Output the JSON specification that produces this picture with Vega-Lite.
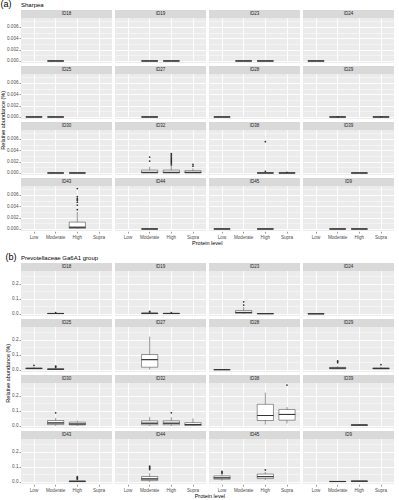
{
  "$schema": "https://vega.github.io/schema/vega-lite/v6.json",
  "padding": {"left": 0, "top": 0, "right": 0, "bottom": 0},
  "background": "white",
  "config": {
    "font": "Liberation Sans",
    "view": {"stroke": null, "fill": "#EBEBEB"},
    "axis": {"domain": false, "tickColor": "#333333", "tickSize": 2, "tickWidth": 0.5, "labelFontSize": 4.6, "labelColor": "#4D4D4D", "labelPadding": 1, "gridColor": "#FFFFFF", "titleFontSize": 5.5, "titleFontWeight": "normal", "titleColor": "#000000", "titlePadding": 2},
    "title": {"fontWeight": "normal", "color": "#000000"},
    "header": {"titleFontWeight": "normal", "labels": false, "labelExpr": "''", "labelFontSize": 1, "labelPadding": 0}
  },
  "datasets": {
    "sharpea": [
      {"panel": "ID18", "level": "Moderate", "lo": 0, "q1": 0, "med": 0, "q3": 0, "hi": 0},
      {"panel": "ID19", "level": "Moderate", "lo": 0, "q1": 0, "med": 0, "q3": 0, "hi": 0},
      {"panel": "ID19", "level": "High", "lo": 0, "q1": 0, "med": 0, "q3": 0, "hi": 0},
      {"panel": "ID23", "level": "Moderate", "lo": 0, "q1": 0, "med": 0, "q3": 0, "hi": 0},
      {"panel": "ID23", "level": "High", "lo": 0, "q1": 0, "med": 0, "q3": 0, "hi": 0},
      {"panel": "ID24", "level": "Low", "lo": 0, "q1": 0, "med": 0, "q3": 0, "hi": 0},
      {"panel": "ID25", "level": "Low", "lo": 0, "q1": 0, "med": 0, "q3": 0, "hi": 0},
      {"panel": "ID25", "level": "Moderate", "lo": 0, "q1": 0, "med": 0, "q3": 0, "hi": 0},
      {"panel": "ID27", "level": "Moderate", "lo": 0, "q1": 0, "med": 0, "q3": 0, "hi": 0},
      {"panel": "ID28", "level": "Low", "lo": 0, "q1": 0, "med": 0, "q3": 0, "hi": 0},
      {"panel": "ID29", "level": "Moderate", "lo": 0, "q1": 0, "med": 0, "q3": 0, "hi": 0},
      {"panel": "ID29", "level": "Moderate", "out": 0.00003},
      {"panel": "ID29", "level": "Supra", "lo": 0, "q1": 0, "med": 0, "q3": 0, "hi": 0},
      {"panel": "ID29", "level": "Supra", "out": 0.00003},
      {"panel": "ID30", "level": "Moderate", "lo": 0, "q1": 0, "med": 0, "q3": 0, "hi": 0},
      {"panel": "ID30", "level": "High", "lo": 0, "q1": 0, "med": 0, "q3": 0, "hi": 0},
      {"panel": "ID32", "level": "Moderate", "lo": 0, "q1": 0, "med": 0.0001, "q3": 0.0005, "hi": 0.0011},
      {"panel": "ID32", "level": "Moderate", "out": 0.0021},
      {"panel": "ID32", "level": "Moderate", "out": 0.0028},
      {"panel": "ID32", "level": "High", "lo": 0, "q1": 0, "med": 0.0001, "q3": 0.0005, "hi": 0.0012},
      {"panel": "ID32", "level": "High", "out": 0.0014},
      {"panel": "ID32", "level": "High", "out": 0.0016},
      {"panel": "ID32", "level": "High", "out": 0.0018},
      {"panel": "ID32", "level": "High", "out": 0.002},
      {"panel": "ID32", "level": "High", "out": 0.0022},
      {"panel": "ID32", "level": "High", "out": 0.0024},
      {"panel": "ID32", "level": "High", "out": 0.0026},
      {"panel": "ID32", "level": "High", "out": 0.0028},
      {"panel": "ID32", "level": "High", "out": 0.003},
      {"panel": "ID32", "level": "High", "out": 0.0032},
      {"panel": "ID32", "level": "High", "out": 0.0034},
      {"panel": "ID32", "level": "Supra", "lo": 0, "q1": 0, "med": 0.0001, "q3": 0.0004, "hi": 0.0008},
      {"panel": "ID32", "level": "Supra", "out": 0.0012},
      {"panel": "ID32", "level": "Supra", "out": 0.0015},
      {"panel": "ID38", "level": "High", "lo": 0, "q1": 0, "med": 0, "q3": 0, "hi": 0.0001},
      {"panel": "ID38", "level": "High", "out": 0.0003},
      {"panel": "ID38", "level": "High", "out": 0.0055},
      {"panel": "ID38", "level": "Supra", "lo": 0, "q1": 0, "med": 0, "q3": 0, "hi": 0},
      {"panel": "ID38", "level": "Supra", "out": 0.0001},
      {"panel": "ID39", "level": "High", "lo": 0, "q1": 0, "med": 0, "q3": 0, "hi": 0},
      {"panel": "ID43", "level": "High", "lo": 0, "q1": 0.0001, "med": 0.0003, "q3": 0.0012, "hi": 0.003},
      {"panel": "ID43", "level": "High", "out": 0.0034},
      {"panel": "ID43", "level": "High", "out": 0.0042},
      {"panel": "ID43", "level": "High", "out": 0.0047},
      {"panel": "ID43", "level": "High", "out": 0.005},
      {"panel": "ID43", "level": "High", "out": 0.0052},
      {"panel": "ID43", "level": "High", "out": 0.0054},
      {"panel": "ID43", "level": "High", "out": 0.0057},
      {"panel": "ID43", "level": "High", "out": 0.0071},
      {"panel": "ID44", "level": "Moderate", "lo": 0, "q1": 0, "med": 0, "q3": 0, "hi": 0},
      {"panel": "ID45", "level": "Low", "lo": 0, "q1": 0, "med": 0, "q3": 0, "hi": 0},
      {"panel": "ID45", "level": "High", "lo": 0, "q1": 0, "med": 0, "q3": 0, "hi": 0},
      {"panel": "ID9", "level": "Moderate", "lo": 0, "q1": 0, "med": 0, "q3": 0, "hi": 0},
      {"panel": "ID9", "level": "High", "lo": 0, "q1": 0, "med": 0, "q3": 0, "hi": 0}
    ],
    "prevo": [
      {"panel": "ID18", "level": "Moderate", "lo": 0.001, "q1": 0.002, "med": 0.003, "q3": 0.004, "hi": 0.006},
      {"panel": "ID18", "level": "Moderate", "out": 0.009},
      {"panel": "ID19", "level": "Moderate", "lo": 0.001, "q1": 0.002, "med": 0.004, "q3": 0.006, "hi": 0.009},
      {"panel": "ID19", "level": "Moderate", "out": 0.013},
      {"panel": "ID19", "level": "Moderate", "out": 0.017},
      {"panel": "ID19", "level": "High", "lo": 0.001, "q1": 0.002, "med": 0.003, "q3": 0.005, "hi": 0.007},
      {"panel": "ID19", "level": "High", "out": 0.009},
      {"panel": "ID23", "level": "Moderate", "lo": 0, "q1": 0.004, "med": 0.01, "q3": 0.023, "hi": 0.046},
      {"panel": "ID23", "level": "Moderate", "out": 0.059},
      {"panel": "ID23", "level": "Moderate", "out": 0.08},
      {"panel": "ID23", "level": "High", "lo": 0, "q1": 0.001, "med": 0.002, "q3": 0.003, "hi": 0.004},
      {"panel": "ID24", "level": "Low", "lo": 0, "q1": 0.001, "med": 0.001, "q3": 0.002, "hi": 0.003},
      {"panel": "ID25", "level": "Low", "lo": 0.005, "q1": 0.008, "med": 0.01, "q3": 0.013, "hi": 0.018},
      {"panel": "ID25", "level": "Low", "out": 0.03},
      {"panel": "ID25", "level": "Moderate", "lo": 0, "q1": 0.003, "med": 0.005, "q3": 0.008, "hi": 0.012},
      {"panel": "ID25", "level": "Moderate", "out": 0.018},
      {"panel": "ID25", "level": "Moderate", "out": 0.022},
      {"panel": "ID25", "level": "Moderate", "out": 0.026},
      {"panel": "ID27", "level": "Moderate", "lo": 0.002, "q1": 0.018, "med": 0.068, "q3": 0.102, "hi": 0.22},
      {"panel": "ID28", "level": "Low", "lo": 0, "q1": 0.001, "med": 0.002, "q3": 0.003, "hi": 0.005},
      {"panel": "ID29", "level": "Moderate", "lo": 0.004, "q1": 0.008, "med": 0.012, "q3": 0.017, "hi": 0.025},
      {"panel": "ID29", "level": "Moderate", "out": 0.048},
      {"panel": "ID29", "level": "Moderate", "out": 0.055},
      {"panel": "ID29", "level": "Moderate", "out": 0.06},
      {"panel": "ID29", "level": "Supra", "lo": 0.004, "q1": 0.007, "med": 0.01, "q3": 0.013, "hi": 0.02},
      {"panel": "ID29", "level": "Supra", "out": 0.035},
      {"panel": "ID30", "level": "Moderate", "lo": 0, "q1": 0.009, "med": 0.02, "q3": 0.036, "hi": 0.053},
      {"panel": "ID30", "level": "Moderate", "out": 0.087},
      {"panel": "ID30", "level": "High", "lo": 0, "q1": 0.007, "med": 0.013, "q3": 0.025, "hi": 0.036},
      {"panel": "ID32", "level": "Moderate", "lo": 0, "q1": 0.008, "med": 0.018, "q3": 0.034, "hi": 0.06},
      {"panel": "ID32", "level": "High", "lo": 0, "q1": 0.008, "med": 0.018, "q3": 0.034, "hi": 0.058},
      {"panel": "ID32", "level": "High", "out": 0.087},
      {"panel": "ID32", "level": "Supra", "lo": 0, "q1": 0.003, "med": 0.009, "q3": 0.022, "hi": 0.05},
      {"panel": "ID38", "level": "High", "lo": 0.009, "q1": 0.036, "med": 0.069, "q3": 0.143, "hi": 0.22},
      {"panel": "ID38", "level": "Supra", "lo": 0.016, "q1": 0.038, "med": 0.076, "q3": 0.109, "hi": 0.125},
      {"panel": "ID38", "level": "Supra", "out": 0.27},
      {"panel": "ID39", "level": "High", "lo": 0.002, "q1": 0.004, "med": 0.006, "q3": 0.008, "hi": 0.012},
      {"panel": "ID43", "level": "High", "lo": 0, "q1": 0.002, "med": 0.004, "q3": 0.007, "hi": 0.012},
      {"panel": "ID43", "level": "High", "out": 0.018},
      {"panel": "ID43", "level": "High", "out": 0.022},
      {"panel": "ID43", "level": "High", "out": 0.026},
      {"panel": "ID43", "level": "High", "out": 0.03},
      {"panel": "ID43", "level": "High", "out": 0.035},
      {"panel": "ID44", "level": "Moderate", "lo": 0, "q1": 0.009, "med": 0.02, "q3": 0.036, "hi": 0.058},
      {"panel": "ID44", "level": "Moderate", "out": 0.082},
      {"panel": "ID44", "level": "Moderate", "out": 0.088},
      {"panel": "ID44", "level": "Moderate", "out": 0.093},
      {"panel": "ID44", "level": "Moderate", "out": 0.098},
      {"panel": "ID44", "level": "Moderate", "out": 0.104},
      {"panel": "ID45", "level": "Low", "lo": 0.008, "q1": 0.018, "med": 0.027, "q3": 0.04, "hi": 0.055},
      {"panel": "ID45", "level": "Low", "out": 0.058},
      {"panel": "ID45", "level": "Low", "out": 0.064},
      {"panel": "ID45", "level": "Low", "out": 0.07},
      {"panel": "ID45", "level": "High", "lo": 0.012, "q1": 0.022, "med": 0.035, "q3": 0.052, "hi": 0.066},
      {"panel": "ID45", "level": "High", "out": 0.079},
      {"panel": "ID9", "level": "Moderate", "lo": 0.001, "q1": 0.002, "med": 0.003, "q3": 0.004, "hi": 0.006},
      {"panel": "ID9", "level": "High", "lo": 0.002, "q1": 0.003, "med": 0.005, "q3": 0.007, "hi": 0.009}
    ]
  },
  "vconcat": [
    {
      "title": {"text": "(a)", "anchor": "start", "frame": "bounds", "fontSize": 9, "offset": -7},
      "vconcat": [
        {
          "title": {"text": "Protein level", "orient": "bottom", "anchor": "middle", "fontSize": 5.5, "offset": 2, "dx": 10},
          "vconcat": [
            {
              "data": {"name": "sharpea"},
              "title": {"text": "Relative abundance (%)", "orient": "left", "anchor": "middle", "fontSize": 5.5, "offset": 0.5},
              "facet": {"field": "panel", "type": "nominal", "sort": ["ID18", "ID19", "ID23", "ID24", "ID25", "ID27", "ID28", "ID29", "ID30", "ID32", "ID38", "ID39", "ID43", "ID44", "ID45", "ID9"], "header": {"labels": false, "labelExpr": "''", "labelFontSize": 1, "labelPadding": 0, "title": "Sharpea", "titleAnchor": "start", "titleFontSize": 6, "titlePadding": 1, "titleColor": "#000000"}},
              "columns": 4,
              "spacing": {"row": 2, "column": 3},
              "spec": {
                "width": 91,
                "height": 53,
                "encoding": {
                  "x": {"field": "level", "type": "nominal", "scale": {"domain": ["Low", "Moderate", "High", "Supra"], "paddingInner": 0.25, "paddingOuter": 0.225}, "axis": {"title": null, "labelAngle": 0, "bandPosition": 0.5, "grid": true, "gridWidth": 0.9}},
                  "y": {"type": "quantitative", "scale": {"domain": [-0.00036, 0.00897], "nice": false, "zero": false}, "axis": {"title": null, "values": [0, 0.001, 0.002, 0.003, 0.004, 0.005, 0.006, 0.007], "labelExpr": "round(datum.value*1000)%2==0 ? format(datum.value,'.3f') : ''", "gridWidth": {"condition": {"test": "round(datum.value*1000)%2==0", "value": 0.9}, "value": 0.45}, "tickOpacity": {"condition": {"test": "round(datum.value*1000)%2==0", "value": 1}, "value": 0}}}
                },
                "layer": [
                  {"transform": [{"filter": "isValid(datum.med)"}], "mark": {"type": "rule", "color": "#333333", "strokeWidth": 0.5}, "encoding": {"y": {"field": "lo"}, "y2": {"field": "hi"}}},
                  {"transform": [{"filter": "isValid(datum.med)"}], "mark": {"type": "bar", "fill": "#FFFFFF", "stroke": "#333333", "strokeWidth": 0.5}, "encoding": {"y": {"field": "q1"}, "y2": {"field": "q3"}}},
                  {"transform": [{"filter": "isValid(datum.med)"}], "mark": {"type": "bar", "fill": null, "stroke": "#333333", "strokeWidth": 0.9}, "encoding": {"y": {"field": "med"}, "y2": {"field": "med"}}},
                  {"transform": [{"filter": "isValid(datum.out)"}], "mark": {"type": "point", "filled": true, "color": "#333333", "size": 3, "opacity": 1}, "encoding": {"y": {"field": "out"}}},
                  {"transform": [{"aggregate": [{"op": "count", "as": "n"}], "groupby": ["panel"]}], "mark": {"type": "rect", "fill": "#D9D9D9"}, "encoding": {"x": null, "y": {"datum": 0.00756}, "y2": {"datum": 0.00897}}},
                  {"transform": [{"aggregate": [{"op": "count", "as": "n"}], "groupby": ["panel"]}], "mark": {"type": "text", "fontSize": 4.5, "color": "#1A1A1A", "baseline": "middle"}, "encoding": {"x": null, "y": {"datum": 0.008265}, "text": {"field": "panel"}}}
                ]
              }
            }
          ]
        }
      ]
    },
    {
      "title": {"text": "(b)", "anchor": "start", "frame": "bounds", "fontSize": 9, "offset": -7},
      "vconcat": [
        {
          "title": {"text": "Protein level", "orient": "bottom", "anchor": "middle", "fontSize": 5.5, "offset": 2, "dx": 10},
          "vconcat": [
            {
              "data": {"name": "prevo"},
              "title": {"text": "Relative abundance (%)", "orient": "left", "anchor": "middle", "fontSize": 5.5, "offset": 0.5},
              "facet": {"field": "panel", "type": "nominal", "sort": ["ID18", "ID19", "ID23", "ID24", "ID25", "ID27", "ID28", "ID29", "ID30", "ID32", "ID38", "ID39", "ID43", "ID44", "ID45", "ID9"], "header": {"labels": false, "labelExpr": "''", "labelFontSize": 1, "labelPadding": 0, "title": "Prevotellaceae Ga6A1 group", "titleAnchor": "start", "titleFontSize": 6, "titlePadding": 1, "titleColor": "#000000"}},
              "columns": 4,
              "spacing": {"row": 2, "column": 3},
              "spec": {
                "width": 91,
                "height": 53,
                "encoding": {
                  "x": {"field": "level", "type": "nominal", "scale": {"domain": ["Low", "Moderate", "High", "Supra"], "paddingInner": 0.25, "paddingOuter": 0.225}, "axis": {"title": null, "labelAngle": 0, "bandPosition": 0.5, "grid": true, "gridWidth": 0.9}},
                  "y": {"type": "quantitative", "scale": {"domain": [-0.0135, 0.3363], "nice": false, "zero": false}, "axis": {"title": null, "values": [0, 0.05, 0.1, 0.15, 0.2, 0.25], "labelExpr": "round(datum.value*100)%10==0 ? format(datum.value,'.1f') : ''", "gridWidth": {"condition": {"test": "round(datum.value*100)%10==0", "value": 0.9}, "value": 0.45}, "tickOpacity": {"condition": {"test": "round(datum.value*100)%10==0", "value": 1}, "value": 0}}}
                },
                "layer": [
                  {"transform": [{"filter": "isValid(datum.med)"}], "mark": {"type": "rule", "color": "#333333", "strokeWidth": 0.5}, "encoding": {"y": {"field": "lo"}, "y2": {"field": "hi"}}},
                  {"transform": [{"filter": "isValid(datum.med)"}], "mark": {"type": "bar", "fill": "#FFFFFF", "stroke": "#333333", "strokeWidth": 0.5}, "encoding": {"y": {"field": "q1"}, "y2": {"field": "q3"}}},
                  {"transform": [{"filter": "isValid(datum.med)"}], "mark": {"type": "bar", "fill": null, "stroke": "#333333", "strokeWidth": 0.9}, "encoding": {"y": {"field": "med"}, "y2": {"field": "med"}}},
                  {"transform": [{"filter": "isValid(datum.out)"}], "mark": {"type": "point", "filled": true, "color": "#333333", "size": 3, "opacity": 1}, "encoding": {"y": {"field": "out"}}},
                  {"transform": [{"aggregate": [{"op": "count", "as": "n"}], "groupby": ["panel"]}], "mark": {"type": "rect", "fill": "#D9D9D9"}, "encoding": {"x": null, "y": {"datum": 0.2835}, "y2": {"datum": 0.3363}}},
                  {"transform": [{"aggregate": [{"op": "count", "as": "n"}], "groupby": ["panel"]}], "mark": {"type": "text", "fontSize": 4.5, "color": "#1A1A1A", "baseline": "middle"}, "encoding": {"x": null, "y": {"datum": 0.3099}, "text": {"field": "panel"}}}
                ]
              }
            }
          ]
        }
      ]
    }
  ],
  "spacing": 6
}
